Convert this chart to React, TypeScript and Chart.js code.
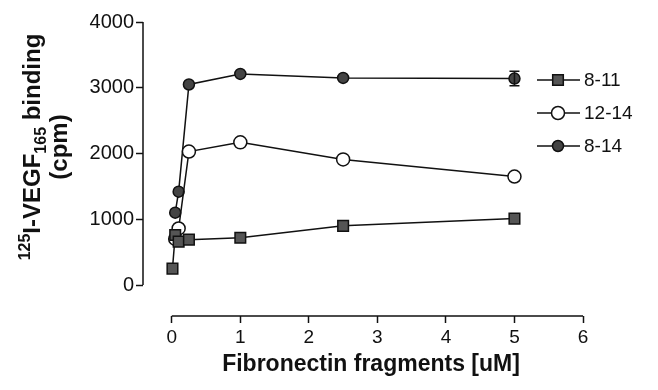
import React, { useEffect, useRef } from "react";
import { Chart, registerables } from "chart.js";

Chart.register(...registerables);

const xTickValues = [0, 1, 2, 3, 4, 5, 6];
const yTickValues = [0, 1000, 2000, 3000, 4000];

const seriesLabels = ["8-11", "12-14", "8-14"];

const conc811 = [0.01, 0.05, 0.1, 0.25, 1, 2.5, 5];
const vals811 = [250, 760, 660, 690, 720, 900, 1010];

const conc1214 = [0.05, 0.1, 0.25, 1, 2.5, 5];
const vals1214 = [700, 860, 2030, 2170, 1910, 1650];

const conc814 = [0.05, 0.1, 0.25, 1, 2.5, 5];
const vals814 = [1100, 1420, 3050, 3210, 3150, 3140];
const err814 = [0, 0, 0, 0, 0, 110];

const INK = "#111";
const FONT = "Arial, 'Liberation Sans', sans-serif";

const styles = [
  { pointStyle: "rect", radius: 7.5, fill: "#555" },
  { pointStyle: "circle", radius: 6.5, fill: "#fff" },
  { pointStyle: "circle", radius: 5.5, fill: "#444" },
];

function drawMarker(ctx: CanvasRenderingContext2D, i: number, x: number, y: number) {
  const s = styles[i];
  ctx.save();
  ctx.fillStyle = s.fill;
  ctx.strokeStyle = INK;
  ctx.lineWidth = 1.5;
  ctx.beginPath();
  if (s.pointStyle === "rect") {
    const h = s.radius * Math.SQRT1_2;
    ctx.rect(x - h, y - h, 2 * h, 2 * h);
  } else {
    ctx.arc(x, y, s.radius, 0, Math.PI * 2);
  }
  ctx.fill();
  ctx.stroke();
  ctx.restore();
}

const customPlugin = {
  id: "custom",
  beforeDatasetsDraw(chart: any) {
    const ctx = chart.ctx as CanvasRenderingContext2D;
    const xs = chart.scales.x;
    const ys = chart.scales.y;
    const area = chart.chartArea;
    ctx.save();
    ctx.strokeStyle = INK;
    ctx.lineWidth = 1.5;
    ctx.beginPath();
    ctx.moveTo(area.left, ys.getPixelForValue(yTickValues[yTickValues.length - 1]));
    ctx.lineTo(area.left, ys.getPixelForValue(yTickValues[0]));
    ctx.moveTo(xs.getPixelForValue(xTickValues[0]), area.bottom);
    ctx.lineTo(xs.getPixelForValue(xTickValues[xTickValues.length - 1]), area.bottom);
    ctx.stroke();
    ctx.restore();
  },
  afterDatasetsDraw(chart: any) {
    const ctx = chart.ctx as CanvasRenderingContext2D;
    const xs = chart.scales.x;
    const ys = chart.scales.y;
    ctx.save();
    ctx.strokeStyle = INK;
    ctx.lineWidth = 1.5;
    conc814.forEach((c, i) => {
      const e = err814[i];
      if (!e) return;
      const px = xs.getPixelForValue(c);
      const top = ys.getPixelForValue(vals814[i] + e);
      const bot = ys.getPixelForValue(vals814[i] - e);
      ctx.beginPath();
      ctx.moveTo(px, top);
      ctx.lineTo(px, bot);
      ctx.moveTo(px - 5, top);
      ctx.lineTo(px + 5, top);
      ctx.moveTo(px - 5, bot);
      ctx.lineTo(px + 5, bot);
      ctx.stroke();
    });
    ctx.restore();
  },
  afterDraw(chart: any) {
    const ctx = chart.ctx as CanvasRenderingContext2D;
    ctx.save();
    // Legend
    const rows = [80, 113, 146];
    seriesLabels.forEach((lab, i) => {
      const y = rows[i];
      ctx.strokeStyle = INK;
      ctx.lineWidth = 1.5;
      ctx.beginPath();
      ctx.moveTo(537, y);
      ctx.lineTo(580, y);
      ctx.stroke();
      drawMarker(ctx, i, 558, y);
      ctx.fillStyle = INK;
      ctx.font = `19px ${FONT}`;
      ctx.textAlign = "left";
      ctx.textBaseline = "middle";
      ctx.fillText(lab, 584, y + 1);
    });

    // X title
    ctx.fillStyle = INK;
    ctx.font = `bold 23px ${FONT}`;
    ctx.textAlign = "center";
    ctx.textBaseline = "middle";
    ctx.fillText("Fibronectin fragments [uM]", 371, 365);

    // Y title (rotated, rich text)
    const mainFont = `bold 24px ${FONT}`;
    const smallFont = `bold 16px ${FONT}`;
    const segs = [
      { t: "125", f: smallFont, dy: -10 },
      { t: "I-VEGF", f: mainFont, dy: 0 },
      { t: "165", f: smallFont, dy: 6 },
      { t: " binding", f: mainFont, dy: 0 },
    ];
    ctx.translate(40, 147);
    ctx.rotate(-Math.PI / 2);
    ctx.textAlign = "left";
    ctx.textBaseline = "alphabetic";
    let total = 0;
    segs.forEach((s) => {
      ctx.font = s.f;
      total += ctx.measureText(s.t).width;
    });
    let cx = -total / 2;
    segs.forEach((s) => {
      ctx.font = s.f;
      ctx.fillText(s.t, cx, s.dy);
      cx += ctx.measureText(s.t).width;
    });
    ctx.font = mainFont;
    ctx.textAlign = "center";
    ctx.fillText("(cpm)", 0, 27);
    ctx.restore();
  },
};

function makeDataset(i: number, xs: number[], ys: number[]) {
  const s = styles[i];
  return {
    label: seriesLabels[i],
    data: xs.map((x, k) => ({ x, y: ys[k] })),
    borderColor: INK,
    borderWidth: 1.5,
    pointStyle: s.pointStyle,
    pointRadius: s.radius,
    pointBackgroundColor: s.fill,
    pointBorderColor: INK,
    pointBorderWidth: 1.5,
    fill: false,
    tension: 0,
  };
}

export default function App() {
  const ref = useRef<HTMLCanvasElement | null>(null);
  useEffect(() => {
    if (!ref.current) return;
    const chart = new Chart(ref.current, {
      type: "line",
      data: {
        datasets: [
          makeDataset(0, conc811, vals811),
          makeDataset(1, conc1214, vals1214),
          makeDataset(2, conc814, vals814),
        ] as any,
      },
      options: {
        responsive: false,
        maintainAspectRatio: false,
        animation: false,
        layout: { padding: { top: 22, right: 75, left: 0, bottom: 0 } },
        plugins: { legend: { display: false }, tooltip: { enabled: false } },
        scales: {
          x: {
            type: "linear",
            min: -0.42,
            max: 6,
            afterBuildTicks: (s: any) => {
              s.ticks = xTickValues.map((v) => ({ value: v }));
            },
            afterFit: (s: any) => {
              s.height = 74;
            },
            grid: {
              drawOnChartArea: false,
              drawTicks: true,
              tickLength: 7,
              tickColor: INK,
              tickWidth: 1.5,
            },
            border: { display: false },
            ticks: {
              font: { family: FONT, size: 19 },
              color: INK,
              padding: 3,
              maxRotation: 0,
              autoSkip: false,
              callback: (v: any) => String(v),
            },
          },
          y: {
            type: "linear",
            min: -471,
            max: 4000,
            afterBuildTicks: (s: any) => {
              s.ticks = yTickValues.map((v) => ({ value: v }));
            },
            afterFit: (s: any) => {
              s.width = 143;
            },
            grid: {
              drawOnChartArea: false,
              drawTicks: true,
              tickLength: 7,
              tickColor: INK,
              tickWidth: 1.5,
            },
            border: { display: false },
            ticks: {
              font: { family: FONT, size: 20 },
              color: INK,
              padding: 2,
              autoSkip: false,
              callback: (v: any) => String(v),
            },
          },
        },
      },
      plugins: [customPlugin],
    });
    return () => chart.destroy();
  }, []);
  return (
    <div style={{ position: "fixed", left: 0, top: 0, width: 658, height: 390, background: "#fff" }}>
      <canvas ref={ref} width={658} height={390} style={{ width: 658, height: 390, display: "block" }} />
    </div>
  );
}
